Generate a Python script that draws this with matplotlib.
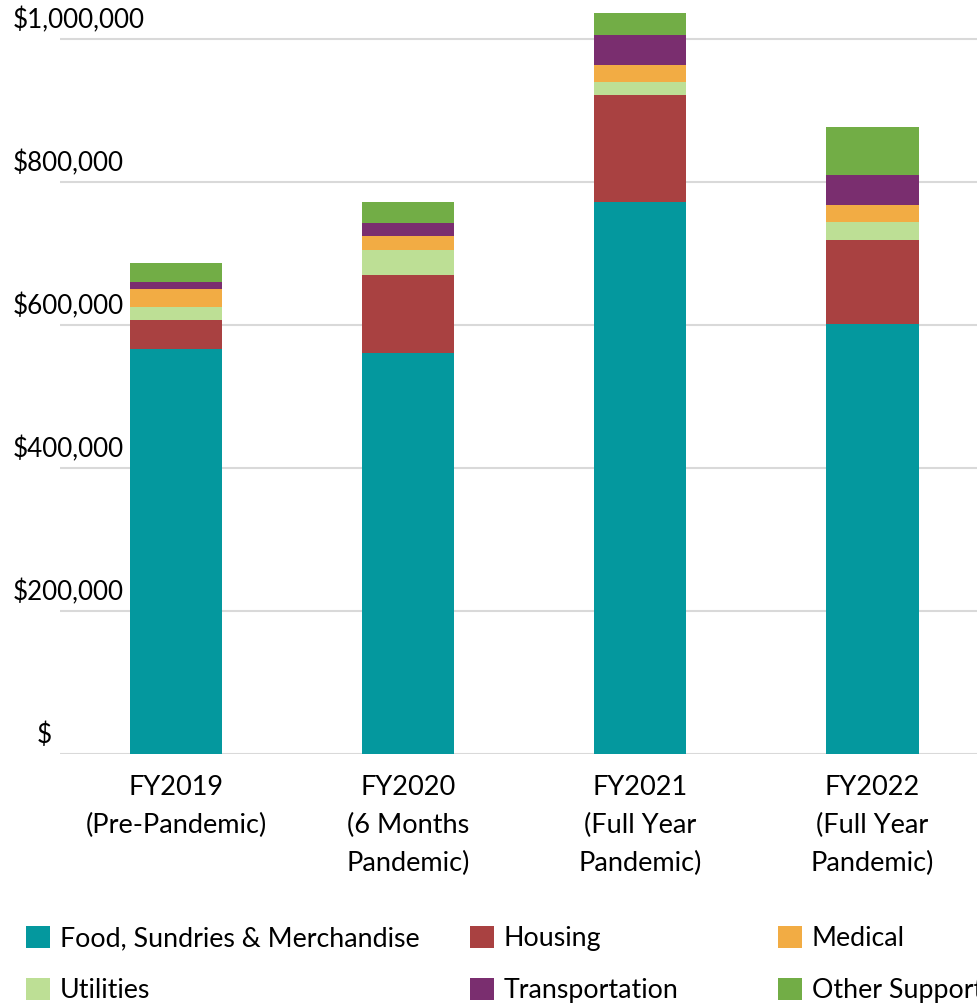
import matplotlib

matplotlib.use("Agg")
import matplotlib.pyplot as plt
import matplotlib.transforms as mtransforms
from matplotlib.patches import Patch

plt.rcParams["font.family"] = ["Lato", "DejaVu Sans"]

years = [
    "FY2019\n(Pre-Pandemic)",
    "FY2020\n(6 Months\nPandemic)",
    "FY2021\n(Full Year\nPandemic)",
    "FY2022\n(Full Year\nPandemic)",
]
food = [567000, 561000, 772000, 601000]
housing = [40000, 109000, 149000, 117500]
utilities = [18000, 34500, 18500, 25500]
medical = [25500, 20500, 24500, 23500]
transportation = [9000, 18000, 41500, 42000]
other_support = [27000, 29500, 31500, 67500]

series = [
    ("Food, Sundries & Merchandise", food, "#04989e"),
    ("Housing", housing, "#a94141"),
    ("Utilities", utilities, "#bddf95"),
    ("Medical", medical, "#f2ac44"),
    ("Transportation", transportation, "#7a2e6f"),
    ("Other Support", other_support, "#72ad46"),
]
y_ticks = [0, 200000, 400000, 600000, 800000, 1000000]
y_labels = ["$", "$200,000", "$400,000", "$600,000", "$800,000", "$1,000,000"]

fig = plt.figure(figsize=(9.77, 10.06), dpi=100)
ax = fig.add_axes([60 / 977, 252 / 1006, 1 - 60 / 977, 754 / 1006])

x = list(range(len(years)))
bottom = [0] * len(years)
colors = {}
for name, values, color in series:
    ax.bar(x, values, width=0.397, bottom=bottom, color=color, zorder=3)
    bottom = [b + v for b, v in zip(bottom, values)]
    colors[name] = color

ax.set_xlim(-0.5, 3.45)
ax.set_ylim(0, 1054500)
ax.set_yticks(y_ticks)
ax.set_yticklabels(y_labels, fontsize=18.7, ha="left")
ax.set_xticks(x)
ax.set_xticklabels(years, fontsize=19.5, linespacing=1.64)
ax.tick_params(axis="y", length=0, pad=34)
ax.tick_params(axis="x", length=0, pad=15)
ax.grid(axis="y", color="#d9d9d9", linewidth=1.5, zorder=0)
for spine in ax.spines.values():
    spine.set_visible(False)

for label in ax.get_yticklabels():
    dx = 24 / 100 if label.get_text() == "$" else 0
    label.set_transform(
        label.get_transform() + mtransforms.ScaledTranslation(dx, 0.21, fig.dpi_scale_trans)
    )

legend_cols = [
    (["Food, Sundries & Merchandise", "Utilities"], 7),
    (["Housing", "Transportation"], 451),
    (["Medical", "Other Support"], 759),
]
for names, left in legend_cols:
    handles = [Patch(facecolor=colors[n], edgecolor="none", label=n) for n in names]
    fig.legend(
        handles=handles,
        loc="upper left",
        bbox_to_anchor=(left / 977, 1 - 907 / 1006),
        frameon=False,
        fontsize=19.3,
        handlelength=0.9,
        handleheight=0.9,
        handletextpad=0.37,
        labelspacing=1.0,
        borderpad=0.2,
    )

fig.savefig("out.png", dpi=100)
